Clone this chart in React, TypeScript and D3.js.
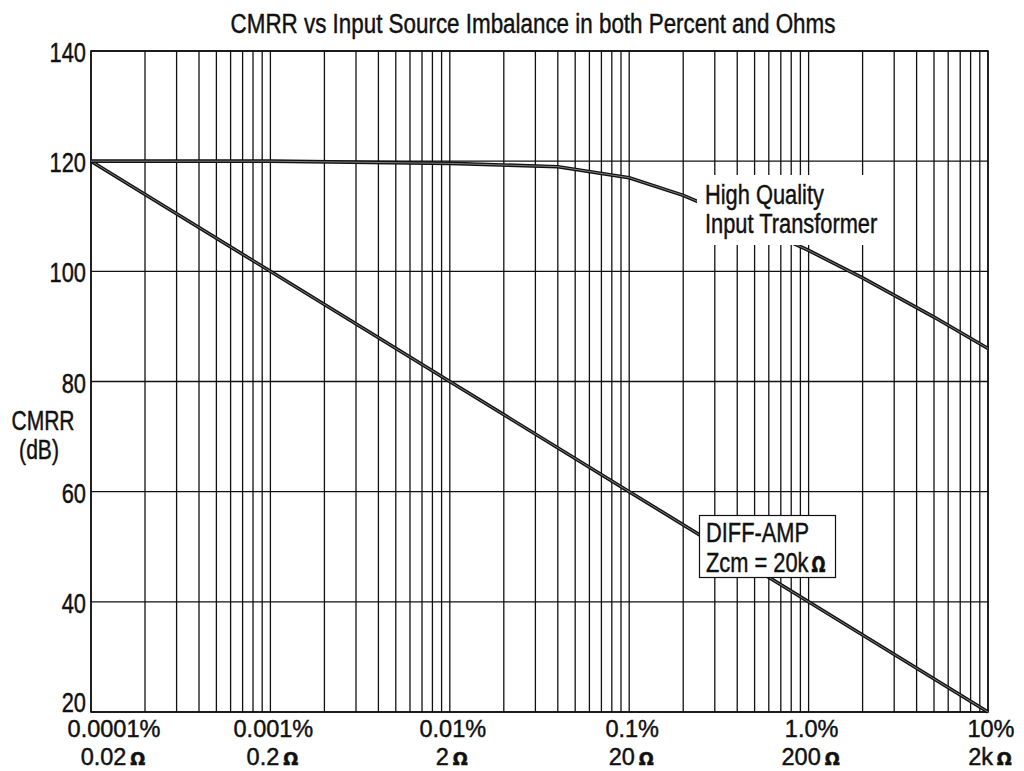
import React from "react";
import { scaleLog, scaleLinear, line } from "d3";

// imbalance in percent (x) and CMRR in dB (y)
const decades = [0.0001, 0.001, 0.01, 0.1, 1, 10];
const percentLabels = ["0.0001%", "0.001%", "0.01%", "0.1%", "1.0%", "10%"];
const ohmLabels = ["0.02", "0.2", "2", "20", "200", "2k"];
const dbTicks = [20, 40, 60, 80, 100, 120, 140];

const transformerX = [0.0001, 0.001, 0.01, 0.04, 0.1, 0.2, 0.5, 1, 2, 5, 10];
const transformerY = [120, 120, 119.6, 119, 117, 113.8, 108.3, 103.8, 98.8, 91.7, 86];

const diffAmpX = [0.0001, 0.001, 0.01, 0.1, 1, 10];
const diffAmpY = [120, 100, 80, 60, 40, 20];

const FONT = "'Liberation Sans', Arial, sans-serif";

// text squeezed horizontally around its anchor point, to mimic a condensed face
function T(props: { x: number; y: number; size: number; sx?: number; anchor?: string; children: React.ReactNode }) {
    return (
        <g transform={`translate(${props.x},${props.y}) scale(${props.sx || 0.78},1)`}>
            <text x={0} y={0} fontSize={props.size} textAnchor={props.anchor || "start"} fill="#111"
                stroke="#111" strokeWidth={0.45}>
                {props.children}
            </text>
        </g>
    );
}

const ohm = (size: number) => (
    <tspan dx={4} fontSize={size} fontWeight="bold" fontFamily="'DejaVu Sans', sans-serif">Ω</tspan>
);

export default function App() {
    const width = 1024;
    const height = 771;
    const plot = { left: 91, right: 988, top: 51, bottom: 712 };

    const x = scaleLog().domain([0.0001, 10]).range([plot.left, plot.right]);
    const y = scaleLinear().domain([20, 140]).range([plot.bottom, plot.top]);

    const gridX = x.ticks();

    const lineFn = line<number[]>()
        .x((d) => x(d[0]))
        .y((d) => y(d[1]));

    const transformer = transformerX.map((v, i) => [v, transformerY[i]]);
    const diffAmp = diffAmpX.map((v, i) => [v, diffAmpY[i]]);

    const doubleLine = (pts: number[][], key: string) => (
        <g key={key}>
            <path d={lineFn(pts) || ""} fill="none" stroke="#111" strokeWidth={3.6} />
            <path d={lineFn(pts) || ""} fill="none" stroke="#8a8a8a" strokeWidth={0.9} />
        </g>
    );

    return (
        <svg width={width} height={height} style={{ position: "absolute", left: 0, top: 0, background: "#fff" }}
            fontFamily={FONT}>
            <rect x={0} y={0} width={width} height={height} fill="#fff" />

            <T x={533} y={33} size={28} sx={0.8} anchor="middle">CMRR vs Input Source Imbalance in both Percent and Ohms</T>

            {/* grid */}
            {gridX.map((v, i) => (
                <line key={'gx' + i} x1={x(v)} x2={x(v)} y1={plot.top} y2={plot.bottom} stroke="#111" strokeWidth={1.3} />
            ))}
            {dbTicks.map((v) => (
                <line key={'gy' + v} x1={plot.left} x2={plot.right} y1={y(v)} y2={y(v)} stroke="#111" strokeWidth={1.3} />
            ))}
            <rect x={plot.left} y={plot.top} width={plot.right - plot.left} height={plot.bottom - plot.top}
                fill="none" stroke="#111" strokeWidth={1.6} />

            {doubleLine(diffAmp, 'diff')}
            {doubleLine(transformer, 'xfmr')}

            {/* curve labels */}
            <rect x={697} y={175} width={183} height={70} fill="#fff" />
            <T x={705} y={204} size={28}>High Quality</T>
            <T x={705} y={233} size={28}>Input Transformer</T>

            <rect x={699.5} y={515.5} width={136} height={62} fill="#fff" stroke="#111" strokeWidth={1.2} />
            <T x={706} y={542} size={28}>DIFF-AMP</T>
            <T x={706} y={572} size={28}>Zcm = 20k{ohm(21)}</T>

            {/* y axis */}
            {dbTicks.map((v) => (
                <T key={'yl' + v} x={86} y={Math.min(y(v) + 11, plot.bottom)} size={28} anchor="end">{v}</T>
            ))}
            <T x={43} y={430} size={27} anchor="middle">CMRR</T>
            <T x={39} y={459} size={27} anchor="middle">(dB)</T>

            {/* x axis */}
            {decades.map((v, i) => {
                const cx = x(v) + (i === 0 ? 23 : 3);
                return (
                    <g key={'xl' + i}>
                        <T x={cx} y={737} size={24} sx={0.98} anchor="middle">{percentLabels[i]}</T>
                        <T x={cx - 1} y={765} size={24} sx={0.98} anchor="middle">{ohmLabels[i]}{ohm(18)}</T>
                    </g>
                );
            })}
        </svg>
    );
}
